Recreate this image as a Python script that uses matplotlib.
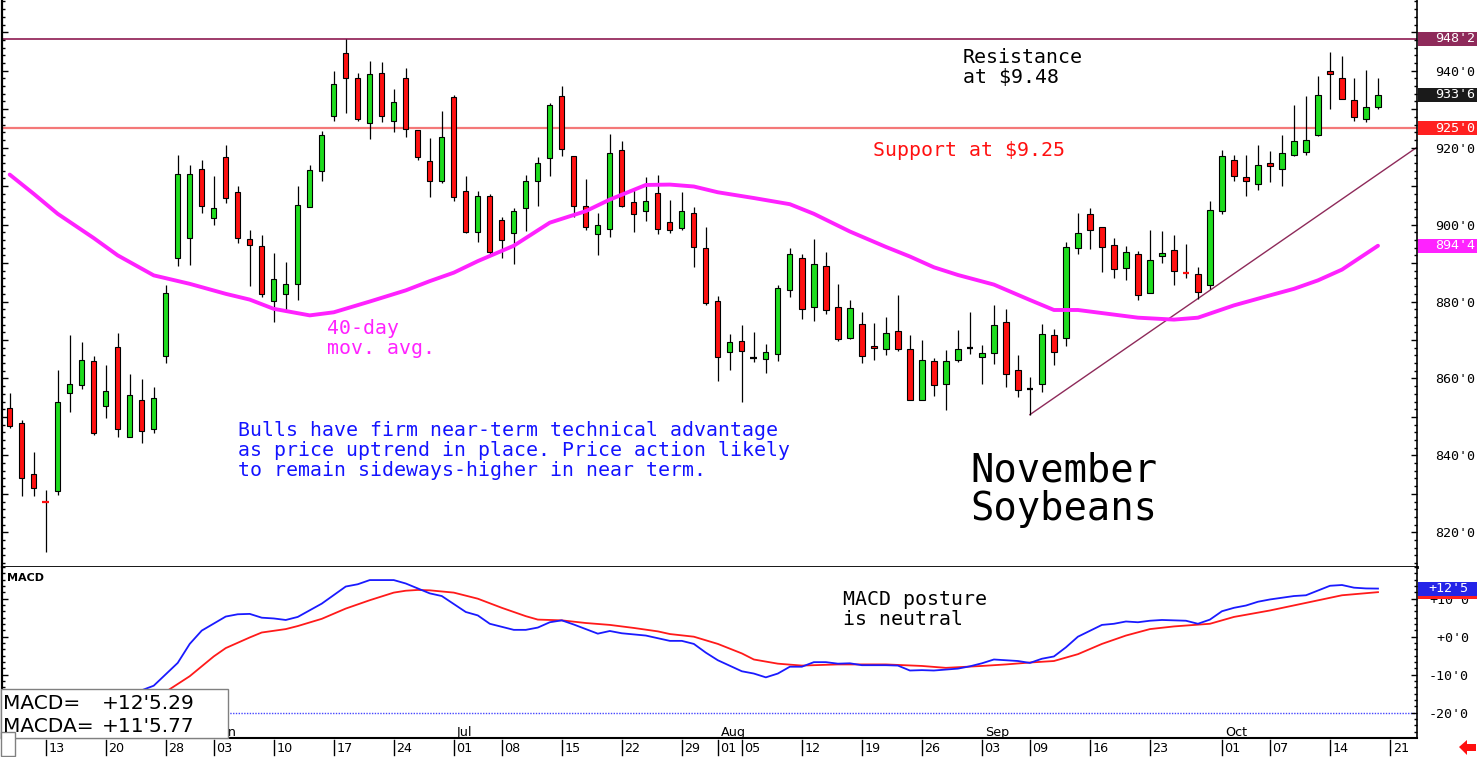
import matplotlib
matplotlib.use("Agg")
import matplotlib.pyplot as plt
from matplotlib import font_manager, transforms
from matplotlib.patches import Rectangle, Polygon
from matplotlib.ticker import MultipleLocator, FuncFormatter

# November soybeans, daily bars (cents/bu), one entry per trading day from May 8
opens = [852.4, 848.5, 835.2, 828.0, 830.8, 856.3, 858.4, 864.6, 852.8, 868.2,
         844.9, 854.5, 846.9, 865.8, 891.3, 896.5, 914.5, 901.8, 917.6, 908.5,
         896.3, 894.5, 880.2, 882.0, 884.6, 904.5, 914.0, 928.2, 944.6, 938.1,
         926.4, 939.4, 926.9, 938.1, 924.7, 916.5, 911.4, 933.2, 908.7, 898.1,
         907.4, 901.2, 897.8, 904.3, 911.3, 917.2, 933.4, 917.7, 904.8, 897.6,
         898.9, 919.4, 905.9, 903.5, 908.1, 900.8, 899.0, 903.0, 893.9, 880.1,
         866.8, 869.8, 865.3, 865.1, 866.4, 883.0, 891.4, 878.5, 889.2, 878.7,
         870.5, 874.2, 868.5, 867.7, 872.4, 867.7, 854.5, 864.6, 858.6, 864.7,
         867.9, 865.7, 866.7, 874.7, 862.2, 857.3, 858.6, 871.3, 870.6, 893.9,
         902.8, 899.3, 894.7, 888.7, 892.4, 882.3, 891.8, 893.4, 887.5, 887.2,
         884.3, 903.5, 916.8, 912.4, 910.6, 916.0, 914.5, 918.1, 918.9, 923.2,
         940.0, 938.1, 932.4, 927.4, 930.5]
highs = [856.3, 849.3, 841.0, 830.9, 862.1, 871.2, 869.4, 865.9, 863.6, 871.7,
         861.2, 859.9, 857.7, 884.2, 918.2, 915.6, 916.8, 912.5, 920.8, 909.9,
         898.7, 897.4, 892.5, 890.4, 910.1, 915.6, 924.4, 940.0, 948.25, 939.4,
         942.6, 942.3, 935.3, 940.8, 924.7, 922.4, 929.6, 933.7, 912.7, 908.8,
         908.0, 902.1, 904.3, 913.0, 917.5, 931.6, 936.1, 917.9, 911.9, 903.0,
         923.5, 921.6, 909.1, 912.3, 913.0, 906.5, 908.6, 904.7, 899.5, 881.5,
         871.6, 874.0, 872.2, 869.0, 884.3, 893.9, 892.4, 896.3, 893.0, 884.6,
         880.3, 877.3, 874.4, 876.1, 881.6, 871.4, 870.0, 865.4, 867.3, 872.5,
         877.4, 868.7, 879.0, 878.1, 866.0, 860.3, 874.2, 872.9, 895.4, 903.1,
         904.3, 899.3, 896.5, 894.4, 893.1, 898.7, 898.4, 897.3, 895.0, 888.9,
         906.2, 919.5, 918.2, 918.2, 920.8, 919.0, 923.4, 931.2, 933.5, 938.7,
         944.9, 943.9, 938.1, 940.3, 938.1]
lows = [847.2, 829.4, 829.4, 814.9, 829.8, 851.2, 857.2, 845.4, 849.7, 844.8,
        844.9, 843.2, 845.8, 864.0, 889.2, 889.5, 903.0, 899.9, 905.6, 895.2,
        884.0, 881.3, 874.6, 877.2, 880.3, 904.5, 911.3, 926.8, 928.9, 926.8,
        922.2, 926.6, 924.0, 922.7, 916.7, 907.1, 910.8, 906.2, 897.7, 895.4,
        892.2, 891.4, 889.8, 898.4, 904.8, 912.6, 917.9, 901.9, 898.7, 892.2,
        896.7, 904.5, 898.0, 900.9, 897.6, 897.9, 898.6, 888.9, 879.2, 859.3,
        862.1, 853.8, 864.2, 861.4, 864.5, 881.1, 875.5, 874.9, 876.8, 869.7,
        870.2, 864.0, 864.9, 866.0, 867.1, 854.5, 854.5, 855.4, 851.9, 864.4,
        866.4, 858.6, 863.8, 857.7, 855.3, 850.6, 856.6, 863.5, 868.4, 892.4,
        893.6, 887.6, 886.1, 885.6, 880.3, 882.3, 890.0, 884.4, 886.2, 880.7,
        883.3, 902.8, 911.3, 907.4, 909.0, 911.0, 910.0, 917.8, 918.1, 923.0,
        930.0, 932.6, 926.9, 926.6, 930.0]
closes = [847.6, 834.0, 831.6, 827.8, 853.9, 858.6, 864.9, 845.9, 856.8, 846.9,
          855.8, 846.4, 855.0, 882.2, 913.2, 913.2, 904.9, 904.3, 906.9, 896.5,
          894.7, 882.0, 885.9, 884.6, 905.1, 914.2, 923.4, 936.5, 938.1, 927.4,
          939.1, 928.1, 931.9, 924.9, 917.6, 911.4, 922.8, 907.2, 898.1, 907.4,
          892.9, 895.9, 903.5, 911.3, 916.0, 931.1, 919.7, 904.8, 899.3, 899.9,
          918.6, 904.8, 902.8, 906.2, 898.9, 898.6, 903.5, 894.1, 879.6, 865.5,
          869.5, 867.1, 865.3, 866.8, 883.5, 892.4, 878.1, 889.8, 877.8, 870.2,
          878.4, 865.8, 868.0, 871.9, 867.6, 854.5, 864.9, 858.4, 864.6, 867.7,
          867.9, 866.5, 873.9, 861.2, 857.0, 857.3, 871.6, 866.8, 894.1, 897.8,
          898.6, 894.1, 888.5, 892.8, 881.7, 890.8, 892.6, 888.0, 887.3, 882.6,
          903.8, 917.8, 912.5, 911.3, 915.5, 915.2, 918.6, 921.7, 922.0, 933.7,
          939.1, 932.6, 927.9, 930.6, 933.75]

# 40-day moving average at these days
ma_days = [0, 2, 4, 7, 9, 12, 15, 18, 20, 22, 25, 27, 30, 33, 35, 37,
           39, 42, 45, 48, 50, 53, 55, 57, 59, 62, 65, 67, 70, 73, 75, 77,
           79, 82, 85, 87, 89, 94, 97, 99, 102, 105, 107, 109, 111, 114]
ma_vals = [913.0, 908.0, 902.8, 896.5, 892.0, 886.8, 884.6, 882.0, 880.5, 878.1, 876.4, 877.2, 880.0, 882.9, 885.3, 887.5,
           890.5, 894.5, 900.5, 903.5, 906.5, 910.3, 910.4, 909.9, 908.4, 906.9, 905.3, 902.8, 898.2, 894.2, 891.7, 888.9,
           886.9, 884.4, 880.4, 877.8, 877.8, 875.8, 875.3, 875.8, 879.0, 881.6, 883.3, 885.5, 888.3, 894.5]

# MACD line (blue) and its average (red)
macd_days = [8, 11, 12, 13, 14, 15, 16, 18, 19, 20, 21, 22, 23, 24, 26, 28, 29, 30, 32, 33, 35, 36,
             38, 39, 40, 42, 43, 44, 45, 46, 47, 48, 49, 50, 51, 53, 55, 56, 57, 58, 59, 61, 62, 63,
             64, 65, 66, 67, 68, 69, 70, 71, 73, 74, 75, 76, 77, 79, 80, 81, 82, 84, 85, 86, 87, 88,
             89, 91, 92, 93, 94, 95, 96, 98, 99, 100, 101, 102, 103, 104, 105, 107, 108, 110, 111, 112,
             113, 114]
macd_vals = [-18.0, -14.1, -12.9, -9.9, -6.9, -1.9, 1.6, 5.3, 5.9, 6.0, 5.0, 4.8, 4.4, 5.2, 8.7, 13.2, 13.8, 14.9,
             14.9, 14.0, 11.4, 10.7, 6.5, 5.6, 3.4, 1.8, 1.8, 2.4, 3.8, 4.3, 3.2, 2.0, 0.8, 1.5, 0.9, 0.3,
             -1.1, -1.1, -1.9, -4.2, -6.2, -9.1, -9.7, -10.7, -9.7, -7.9, -7.9, -6.7, -6.7, -7.1, -7.0, -7.5,
             -7.5, -7.6, -8.9, -8.8, -8.9, -8.4, -7.8, -7.0, -6.0, -6.4, -6.9, -5.8, -5.2, -2.8, 0.0, 3.1,
             3.4, 4.0, 3.8, 4.2, 4.4, 4.2, 3.4, 4.5, 6.7, 7.6, 8.2, 9.2, 9.8, 10.7, 10.9, 13.4, 13.6, 12.9,
             12.7, 12.661]
sig_days = [8, 13, 15, 17, 18, 20, 21, 23, 24, 26, 28, 30, 32, 33, 34, 35, 37, 39, 41, 43, 44, 46,
            48, 50, 52, 54, 55, 57, 59, 61, 62, 64, 66, 69, 73, 76, 78, 81, 83, 85, 87, 89, 91, 93,
            95, 97, 100, 102, 105, 108, 111, 114]
sig_vals = [-20.0, -14.5, -10.4, -5.2, -3.0, -0.2, 1.1, 2.0, 2.8, 4.7, 7.4, 9.6, 11.6, 12.1, 12.3, 12.2, 11.6,
            10.0, 7.6, 5.4, 4.5, 4.3, 3.6, 3.1, 2.3, 1.4, 0.7, 0.0, -1.9, -4.4, -6.0, -7.1, -7.6, -7.3,
            -7.3, -7.7, -8.2, -7.7, -7.3, -6.8, -6.4, -4.6, -1.9, 0.3, 2.0, 2.7, 3.4, 5.2, 6.9, 8.9,
            10.9, 11.721]

resistance = 948.25
support = 925.0
trend_days = [85, 117.25]
trend_vals = [850.6, 920.1]

date_days = [3, 8, 13, 17, 22, 27, 32, 37, 41, 46, 51, 56, 59, 61, 66, 71, 76, 81, 85, 90, 95, 101, 105, 110, 115]
date_labels = ['13', '20', '28', '03', '10', '17', '24', '01', '08', '15', '22', '29', '01',
               '05', '12', '19', '26', '03', '09', '16', '23', '01', '07', '14', '21']
month_days = [17, 37, 59, 81, 101]
month_labels = ['Jun', 'Jul', 'Aug', 'Sep', 'Oct']

W, H = 1479, 757
UP, DOWN = '#1EDC1E', '#FF1010'
MAGENTA = '#FF22FF'
MONO = 'DejaVu Sans Mono'
installed = {f.name for f in font_manager.fontManager.ttflist}
NARROW = 'Liberation Sans Narrow' if 'Liberation Sans Narrow' in installed else 'DejaVu Sans'
narrow_ok = NARROW != 'DejaVu Sans'

plt.rcParams['font.family'] = MONO


def fx(px):
    return px / W


def fy(py):
    return 1 - py / H


def eighths(v, sign=False):
    whole = int(abs(v))
    frac = round((abs(v) - whole) * 8)
    s = f"{whole}'{frac}"
    if sign:
        s = ('-' if v < 0 else '+') + s
    return s


def eighths_long(v):
    whole = int(abs(v))
    return ('-' if v < 0 else '+') + f"{whole}'{(abs(v) - whole) * 8:.2f}"


fig = plt.figure(figsize=(W / 100, H / 100), dpi=100)
ax = fig.add_axes([fx(2), fy(567), (1417 - 2) / W, 567 / H])
ax2 = fig.add_axes([fx(2), fy(738), (1417 - 2) / W, (738 - 567) / H])

# ---- price panel
days = list(range(len(opens)))
ax.vlines(days, lows, highs, color='black', lw=0.9, zorder=2)
bx, bb, bh, bc, dx, dy, dc = [], [], [], [], [], [], []
for i, o, c in zip(days, opens, closes):
    if abs(c - o) < 0.4:
        dx.append(i)
        dy.append(c)
        dc.append('black' if c == o else (UP if c > o else DOWN))
    else:
        bx.append(i)
        bb.append(min(o, c))
        bh.append(abs(c - o))
        bc.append(UP if c > o else DOWN)
ax.bar(bx, bh, bottom=bb, width=0.44, color=bc, edgecolor='black', linewidth=0.8, zorder=3)
ax.hlines(dy, [d - 0.28 for d in dx], [d + 0.28 for d in dx], colors=dc, lw=1.6, zorder=3)

ax.plot(ma_days, ma_vals, color=MAGENTA, lw=2.8, zorder=4, solid_capstyle='round')
ax.axhline(resistance, color='#8E1A52', lw=1.2, zorder=1)
ax.axhline(support, color='#F47878', lw=1.6, zorder=1)
ax.plot(trend_days, trend_vals, color='#8E2A5A', lw=1.0, zorder=1)

ax.set_xlim(-0.64, 117.25)
ax.set_ylim(810.99, 958.38)
ax.set_xticks([])
ax.yaxis.set_major_locator(MultipleLocator(10))
ax.yaxis.set_minor_locator(MultipleLocator(2))
ax.yaxis.set_major_formatter(FuncFormatter(lambda v, _: f"{int(round(v))}'0" if round(v) % 20 == 0 else ''))
ax.tick_params(axis='y', which='both', direction='in', left=True, right=True,
               labelleft=False, labelright=True, colors='black')
ax.tick_params(axis='y', which='major', length=4.5, width=1.0, pad=13, labelsize=9.6)
ax.tick_params(axis='y', which='minor', length=2.2, width=1.0)
ax.spines['top'].set_visible(False)
ax.spines['bottom'].set_linewidth(2.0)
ax.spines['left'].set_linewidth(1.6)
ax.spines['right'].set_linewidth(1.2)

# ---- MACD panel
ax2.plot(sig_days, sig_vals, color='#FF1A1A', lw=1.3, zorder=3)
ax2.plot(macd_days, macd_vals, color='#1A1AFF', lw=1.3, zorder=4)
ax2.axhline(-20, color='#4646FF', lw=1.0, ls=(0, (1, 1)), zorder=1)
ax2.set_xlim(-0.64, 117.25)
ax2.set_ylim(-26.66, 18.34)
ax2.set_xticks([])
ax2.yaxis.set_major_locator(MultipleLocator(10))
ax2.yaxis.set_minor_locator(MultipleLocator(10 / 6))
ax2.yaxis.set_major_formatter(FuncFormatter(lambda v, _: eighths(v, sign=True).rjust(5)))
ax2.tick_params(axis='y', which='both', direction='in', left=True, right=True,
                labelleft=False, labelright=True)
ax2.tick_params(axis='y', which='major', length=4.5, width=1.0, pad=8.6, labelsize=9.6)
ax2.tick_params(axis='y', which='minor', length=2.2, width=1.0)
ax2.spines['top'].set_visible(False)
ax2.spines['bottom'].set_linewidth(1.5)
ax2.spines['left'].set_linewidth(1.6)
ax2.spines['right'].set_linewidth(1.2)

# date row under the MACD panel
dt = transforms.blended_transform_factory(ax2.transData, ax2.transAxes)
axh = 738 - 567
date_size = 9.5 if narrow_ok else 9.2
for d, lab in zip(date_days, date_labels):
    ax2.plot([d, d], [-2 / axh, -17 / axh], color='black', lw=1.0, transform=dt, clip_on=False)
    ax2.text(d + 0.22, -14 / axh, lab, transform=dt, ha='left', va='baseline',
             fontsize=date_size, family=NARROW, clip_on=False)
for d, lab in zip(month_days, month_labels):
    ax2.text(d + 0.25, 2 / axh, lab, transform=dt, ha='left', va='baseline',
             fontsize=date_size, family=NARROW)


# value tags on the right axis
def tag(axis, val, text, fc, px_left, px_h=14, z=6):
    lo, hi = axis.get_ylim()
    h = px_h * (hi - lo) / (axis.bbox.height)
    tr = transforms.blended_transform_factory(axis.transAxes, axis.transData)
    x0 = (1418 - 2) / 1415
    x1 = (1477 - 2) / 1415
    axis.add_patch(Rectangle((x0, val - h / 2), x1 - x0, h, transform=tr, facecolor=fc,
                             edgecolor='none', clip_on=False, zorder=z))
    if text:
        axis.text((px_left - 2) / 1415, val, text, transform=tr, color='white', ha='left', va='center',
                  fontsize=9.6, family=MONO, clip_on=False, zorder=z + 1)


tag(ax, resistance, eighths(resistance), '#8E2A5A', 1435)
tag(ax, closes[-1], eighths(closes[-1]), '#1A1A1A', 1435)
tag(ax, support, eighths(support), '#FF2020', 1435)
tag(ax, ma_vals[-1], eighths(ma_vals[-1]), MAGENTA, 1435)
# the signal tag sits under the MACD tag; only its lower edge shows
tag(ax2, sig_vals[-1], '', '#FF2020', 1428, z=6)
tag(ax2, macd_vals[-1], eighths(macd_vals[-1], sign=True), '#2424E8', 1428, z=8)

# ---- annotations
big = 14.35
fig.text(fx(963), fy(63), 'Resistance', fontsize=big, color='black', va='baseline')
fig.text(fx(963), fy(83), 'at $9.48', fontsize=big, color='black', va='baseline')
fig.text(fx(873), fy(156), 'Support at $9.25', fontsize=big, color='#FF1010', va='baseline')
fig.text(fx(327), fy(334), '40-day', fontsize=big, color=MAGENTA, va='baseline')
fig.text(fx(327), fy(354), 'mov. avg.', fontsize=big, color=MAGENTA, va='baseline')
blue_lines = ['Bulls have firm near-term technical advantage',
              'as price uptrend in place. Price action likely',
              'to remain sideways-higher in near term.']
for k, line in enumerate(blue_lines):
    fig.text(fx(238), fy(436 + 20 * k), line, fontsize=big, color='#1414FF', va='baseline')
fig.text(fx(970), fy(482), 'November', fontsize=28, color='black', va='baseline')
fig.text(fx(970), fy(520), 'Soybeans', fontsize=28, color='black', va='baseline')
fig.text(fx(843), fy(605), 'MACD posture', fontsize=big, color='black', va='baseline')
fig.text(fx(843), fy(625), 'is neutral', fontsize=big, color='black', va='baseline')
fig.text(fx(7), fy(581), 'MACD', fontsize=8, weight='bold', family='DejaVu Sans', va='baseline')

# value box at lower left
fig.add_artist(Rectangle((fx(1), fy(738)), 227 / W, 49 / H, transform=fig.transFigure,
                         facecolor='white', edgecolor='#808080', lw=1.0, zorder=2))
fig.add_artist(Rectangle((fx(1), fy(756)), 14 / W, 24 / H, transform=fig.transFigure,
                         facecolor='white', edgecolor='#808080', lw=1.0, zorder=2))
box_size = 16 if narrow_ok else 14.5
fig.text(fx(3), fy(709), 'MACD=', fontsize=box_size, family=NARROW, va='baseline', zorder=4)
fig.text(fx(102), fy(709), eighths_long(macd_vals[-1]), fontsize=box_size, family=NARROW,
         va='baseline', zorder=4)
fig.text(fx(3), fy(732), 'MACDA=', fontsize=box_size, family=NARROW, va='baseline', zorder=4)
fig.text(fx(102), fy(732), eighths_long(sig_vals[-1]), fontsize=box_size, family=NARROW,
         va='baseline', zorder=4)

# red arrow, bottom right
arrow_px = [(1459, 747), (1467, 740), (1467, 744), (1476, 744), (1476, 751), (1467, 751), (1467, 755)]
fig.add_artist(Polygon([(fx(x), fy(y)) for x, y in arrow_px], closed=True, transform=fig.transFigure,
                       facecolor='#FF1010', edgecolor='none', zorder=2))

fig.savefig('out.png', dpi=100)
